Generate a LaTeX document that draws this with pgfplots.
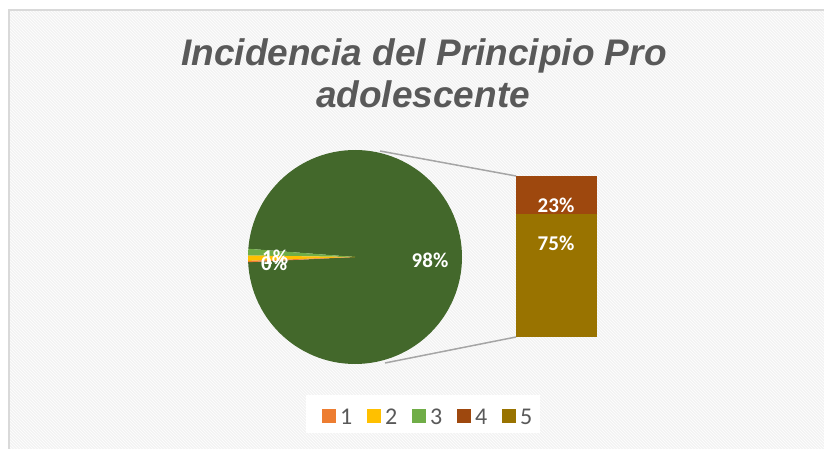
\documentclass[border=0pt]{standalone}
\usepackage{pgfplots}
\pgfplotsset{compat=1.18}
\usepackage{fontspec}
\setmainfont{Carlito}
\newfontfamily\titlefont{Liberation Sans}
\usetikzlibrary{patterns}

\definecolor{cOne}{HTML}{ED7D31}
\definecolor{cTwo}{HTML}{FFC000}
\definecolor{cThree}{HTML}{70AD47}
\definecolor{cFour}{HTML}{9E480E}
\definecolor{cFive}{HTML}{997300}
\definecolor{cOther}{HTML}{43682B}
\definecolor{titlegray}{HTML}{595959}
\definecolor{connector}{HTML}{A5A5A5}
\definecolor{framegray}{HTML}{D9D9D9}
\definecolor{bg}{HTML}{F3F3F3}

% shares in percent; 4 and 5 make up the "other" slice (98%)
\def\vOne{0.2}
\def\vTwo{0.8}
\def\vThree{1.0}
\def\vFour{23}
\def\vFive{75}

\begin{document}
\begin{tikzpicture}[x=1pt,y=1pt]
\useasboundingbox (0,0) rectangle (824,449);
\fill[white] (0,0) rectangle (824,449);
\fill[bg] (9,-5) rectangle (830,439);
\fill[pattern=north west lines, pattern color=white] (9,-5) rectangle (830,439);
\draw[framegray, line width=1.2] (9,-5) rectangle (830,439);

% title
\node[anchor=base, text=titlegray, font=\titlefont\bfseries\itshape\fontsize{37}{40}\selectfont] at (424,383) {Incidencia del Principio Pro};
\node[anchor=base, text=titlegray, font=\titlefont\bfseries\itshape\fontsize{37}{40}\selectfont] at (423,341) {adolescente};

% slice angles
\pgfmathsetmacro\aA{175.6}
\pgfmathsetmacro\aB{\aA+3.6*\vThree}
\pgfmathsetmacro\aC{\aB+3.6*\vTwo}
\pgfmathsetmacro\aD{\aC+3.6*\vOne}
\pgfmathsetmacro\aE{\aA+360}

% connector lines
\draw[connector, line width=1.5] (380,298) -- (516,273);
\draw[connector, line width=1.5] (385,86) -- (516,112);

% pie: centre at (355pt,192pt), radius 107pt
\begin{axis}[anchor=south west, at={(237.3pt,74.3pt)}, x=107pt, y=107pt,
    xmin=-1.1, xmax=1.1, ymin=-1.1, ymax=1.1, hide axis, clip=false]
\fill[cOther] (axis cs:0,0) -- (axis cs:{cos(\aD)},{sin(\aD)}) arc[start angle=\aD, end angle=\aE, radius=107pt] -- cycle;
\fill[cThree] (axis cs:0,0) -- (axis cs:{cos(\aA)},{sin(\aA)}) arc[start angle=\aA, end angle=\aB, radius=107pt] -- cycle;
\fill[cTwo] (axis cs:0,0) -- (axis cs:{cos(\aB)},{sin(\aB)}) arc[start angle=\aB, end angle=\aC, radius=107pt] -- cycle;
\fill[cOne] (axis cs:0,0) -- (axis cs:{cos(\aC)},{sin(\aC)}) arc[start angle=\aC, end angle=\aD, radius=107pt] -- cycle;
\end{axis}

% bar of the "other" slice
\begin{axis}[anchor=south west, at={(506.5pt,112pt)}, x=1pt, y=1.643pt,
    xmin=-50, xmax=50, ymin=0, ymax=98, hide axis, clip=false,
    ybar stacked, bar width=81pt]
\addplot[fill=cFive, draw=none] coordinates {(0,\vFive)};
\addplot[fill=cFour, draw=none] coordinates {(0,\vFour)};
\end{axis}

% data labels
\begin{scope}[every node/.style={text=white, font=\bfseries\fontsize{21}{24}\selectfont}]
\node at (430,189) {98\%};
\node at (556,244) {23\%};
\node at (556,206) {75\%};
\node[anchor=west, inner sep=0pt] at (261,186) {0\%};
\node[anchor=west, inner sep=0pt] at (262,192) {1\%};
\end{scope}

% legend
\fill[white] (306,16) rectangle (540,54);
\begin{scope}[every node/.style={anchor=west, text=titlegray, font=\fontsize{24}{26}\selectfont, inner sep=0pt}]
\fill[cOne]   (322,26) rectangle (336,40); \node at (340,32) {1};
\fill[cTwo]   (367,26) rectangle (381,40); \node at (385,32) {2};
\fill[cThree] (412,26) rectangle (426,40); \node at (430,32) {3};
\fill[cFour]  (457,26) rectangle (471,40); \node at (475,32) {4};
\fill[cFive]  (502,26) rectangle (516,40); \node at (520,32) {5};
\end{scope}
\end{tikzpicture}
\end{document}
